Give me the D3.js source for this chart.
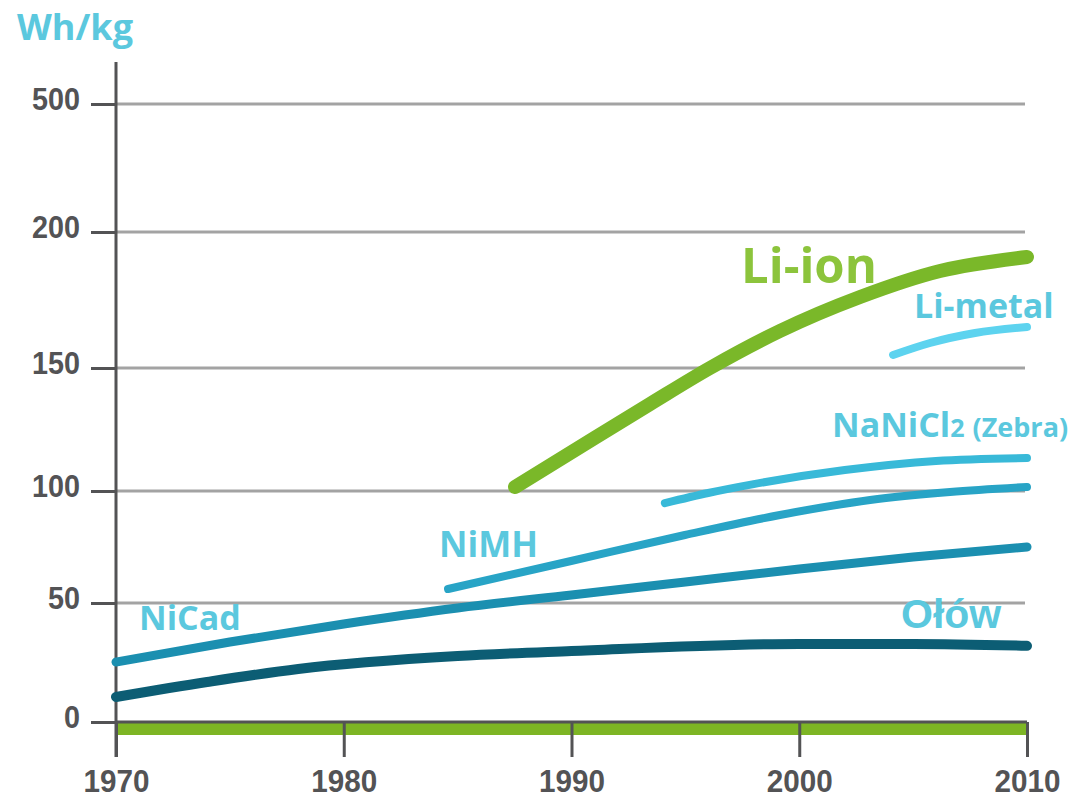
<!DOCTYPE html>
<html>
<head>
<meta charset="utf-8">
<script src="https://cdn.jsdelivr.net/npm/d3@7/dist/d3.min.js"></script>
<style>
  html, body { margin: 0; padding: 0; background: #fff; }
  svg { display: block; }
</style>
</head>
<body>
<svg id="chart" width="1084" height="799"></svg>
<script>
// ---- data ----
const yTickValues = [0, 50, 100, 150, 200, 500];
const xTickValues = [1970, 1980, 1990, 2000, 2010];

const olowData    = [[1970,10.5],[1974,16.8],[1978,22.3],[1985,27.7],[1990,29.8],[2000,32.8],[2005,32.8],[2010,32]];
const nicadData   = [[1970,25.2],[1975,33.6],[1980,41.2],[1985,47.9],[1990,53.6],[1995,59.4],[2000,65.2],[2005,70.5],[2010,75]];
const nimhData    = [[1984.58,56.25],[1989.98,68.75],[1994.98,80.36],[1999.15,89.29],[2003.11,95.98],[2006.62,99.55],[2010,101.63]];
const zebraData   = [[1994.1,94.6],[1996,99.1],[1998,102.8],[2002,108.5],[2006,112.2],[2010,113.4]];
const limetalData = [[2004.12,154.78],[2005.74,159.19],[2007.72,162.87],[2010,165.07]];
const lionData    = [[1987.52,101.63],[1990.37,117.89],[1993.45,135.37],[1996.08,150],[1999.15,163.6],[2002.67,176.1],[2006.18,185.66],[2010,190.81]];

const seriesNames = ["Ołów","NiCad","NiMH","NaNiCl2","Li-metal","Li-ion"];

// ---- scales ----
const svg = d3.select("#chart");
const x = d3.scaleLinear().domain([1970, 2010]).range([116, 1027]);
// the reference uses an uneven (broken) value axis
const y = d3.scaleLinear().domain(yTickValues).range([722, 603, 491, 368, 232, 104]);

const axisGrey = "#535355";
const labelCyan = "#5bc8de";
const tickFont = "'Liberation Sans', Arial, sans-serif";

// gridlines
svg.append("g").selectAll("line")
  .data(yTickValues.filter(d => d > 0))
  .join("line")
  .attr("x1", x(1970)).attr("x2", x(2010) - 2)
  .attr("y1", d => y(d)).attr("y2", d => y(d))
  .attr("stroke", "#a3a3a3").attr("stroke-width", 3);

// green base bar
svg.append("rect")
  .attr("x", x(1970)).attr("y", y(0) + 1)
  .attr("width", x(2010) - x(1970)).attr("height", 12)
  .attr("fill", "#7db524");

// y axis (ticks on the left, labels)
const yAxis = d3.axisLeft(y).tickValues(yTickValues).tickSize(25).tickPadding(11).tickFormat(d3.format("d"));
const gy = svg.append("g").attr("transform", `translate(${x(1970)},0)`).call(yAxis);
gy.select(".domain").remove();
gy.selectAll(".tick line").attr("stroke", axisGrey).attr("stroke-width", 3);
gy.selectAll(".tick text")
  .attr("fill", axisGrey)
  .attr("font-family", tickFont)
  .attr("font-weight", "bold")
  .attr("font-size", 32)
  .attr("dy", "0.16em")
  .attr("textLength", function() { return 16 * this.textContent.length; })
  .attr("lengthAdjust", "spacingAndGlyphs");
gy.append("line")
  .attr("x1", 0).attr("x2", 0).attr("y1", 62).attr("y2", 757)
  .attr("stroke", axisGrey).attr("stroke-width", 3);

// x axis (ticks downward)
const xAxis = d3.axisBottom(x).tickValues(xTickValues).tickSize(35).tickPadding(12).tickFormat(d3.format("d"));
const gx = svg.append("g").attr("transform", `translate(0,${y(0)})`).call(xAxis);
gx.select(".domain").remove();
gx.selectAll(".tick line").attr("stroke", axisGrey).attr("stroke-width", 3);
gx.selectAll(".tick text")
  .attr("fill", axisGrey)
  .attr("font-family", tickFont)
  .attr("font-weight", "bold")
  .attr("font-size", 32)
  .attr("textLength", 66)
  .attr("lengthAdjust", "spacingAndGlyphs");
gx.append("line")
  .attr("x1", x(1970)).attr("x2", x(2010)).attr("y1", 0).attr("y2", 0)
  .attr("stroke", axisGrey).attr("stroke-width", 3);

// lines
const line = d3.line().x(d => x(d[0])).y(d => y(d[1])).curve(d3.curveMonotoneX);
const series = [
  {name: seriesNames[0], data: olowData,    color: "#0c5d74", width: 10},
  {name: seriesNames[1], data: nicadData,   color: "#1b8fb0", width: 9},
  {name: seriesNames[2], data: nimhData,    color: "#28a4c6", width: 8},
  {name: seriesNames[3], data: zebraData,   color: "#38b9d8", width: 8},
  {name: seriesNames[4], data: limetalData, color: "#5dd3ef", width: 8},
  {name: seriesNames[5], data: lionData,    color: "#7ab829", width: 14}
];
svg.append("g").selectAll("path")
  .data(series)
  .join("path")
  .attr("d", s => line(s.data))
  .attr("fill", "none")
  .attr("stroke", s => s.color)
  .attr("stroke-width", s => s.width)
  .attr("stroke-linecap", "round")
  .attr("stroke-linejoin", "round");

// labels
const humanist = "'Open Sans', 'Noto Sans', sans-serif";
function label(txt, lx, ly, size, color, family) {
  return svg.append("text")
    .attr("x", lx).attr("y", ly)
    .attr("font-family", family || humanist)
    .attr("font-weight", "bold")
    .attr("font-size", size)
    .attr("fill", color)
    .text(txt);
}
label("Wh/kg", 17, 40, 36, labelCyan);
label("NiCad", 139, 630, 34, labelCyan);
label("NiMH", 439, 557, 35, labelCyan);
label("Li-ion", 741, 283, 49, "#8cc43c");
label("Li-metal", 914, 318, 34, labelCyan);
const zt = label("NaNiCl", 832, 437, 34, labelCyan);
zt.append("tspan").attr("font-size", 25).text("2");
zt.append("tspan").attr("font-size", 27).attr("dx", 8).text("(Zebra)");
label("Ołów", 901, 628, 41, labelCyan, "'Liberation Sans', Arial, sans-serif");
</script>
</body>
</html>
